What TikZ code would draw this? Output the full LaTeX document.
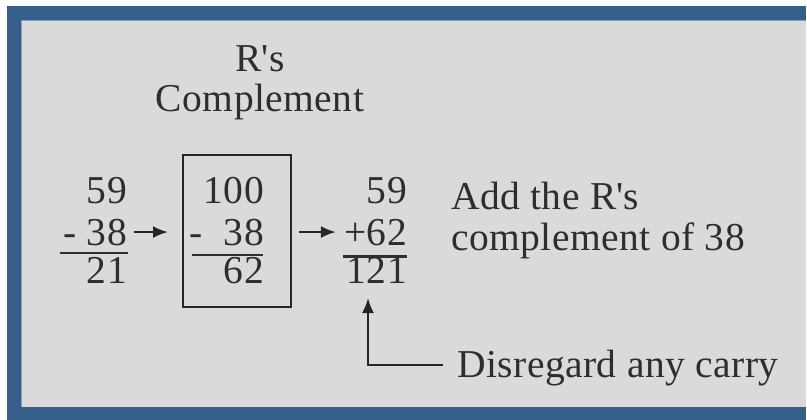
\documentclass[tikz,border=0pt]{standalone}
\usepackage{fontspec}
\setmainfont{Liberation Serif}[LetterSpace=1.2]
\usetikzlibrary{arrows.meta}
\definecolor{frameblue}{HTML}{375F8B}
\definecolor{panelgray}{HTML}{DADADA}
\definecolor{inkgray}{HTML}{2E2E2E}
\begin{document}
\begin{tikzpicture}[x=1pt,y=-1pt,
  txt/.style={inner sep=0pt, text=inkgray, font=\fontsize{39.5}{46}\selectfont},
  num/.style={txt, anchor=base east},
  lbl/.style={txt, anchor=base west},
  rule/.style={draw=inkgray, line width=2.2pt},
  arr/.style={draw=black!85, line width=2.2pt, -{Latex[length=15pt,width=12pt]}}]
\useasboundingbox (0,0) rectangle (807,420);
\fill[white] (0,0) rectangle (807,420);
\fill[frameblue] (7,6) rectangle (806,420);
\fill[panelgray] (21,20) rectangle (806,407);
\draw[frameblue!60!white, line width=0.8pt] (21,407) -- (21,20) -- (806,20);
% title
\node[txt, anchor=base] (t1) at (260,72) {R\textquotesingle s};
\node[txt, anchor=base] (t2) at (260,112) {Complement};
% left column
\node[num] (l1) at (127,203) {59};
\node[num] (l2) at (127,245) {-~38};
\node[num] (l3) at (127,283) {21};
\draw[rule] (60,253) -- (128,253);
% box
\node[draw=black!85, line width=2pt, inner sep=0pt, minimum width=108pt, minimum height=152pt] (box) at (237,231) {};
\node[num] (b1) at (264,203) {100};
\node[num] (b2) at (264,245) {-~~38};
\node[num] (b3) at (264,283) {62};
\draw[rule] (192,255) -- (263,255);
% right column
\node[num] (r1) at (407,203) {59};
\node[num] (r2) at (407,245) {+62};
\node[num] (r3) at (407,283) {121};
\draw[rule] (343,256.5) -- (407,256.5);
% arrows
\draw[arr, shorten <=7pt, shorten >=14pt] (l2.east) -- (l2.east -| box.west);
\draw[arr, shorten <=7pt, shorten >=8pt] (l2.east -| box.east) -- (l2.east -| r2.west);
% notes
\node[lbl] (n1) at (451,209) {Add the R\textquotesingle s};
\node[lbl] (n2) at (451,250) {complement of 38};
\node[lbl] (n3) at (457,377) {Disregard any carry};
\coordinate (noteend) at (443,365);
\coordinate (elbow) at (368,365);
\coordinate (tip) at (368,298);
\draw[arr] (noteend) -- (elbow) -- (tip);
\end{tikzpicture}
\end{document}
